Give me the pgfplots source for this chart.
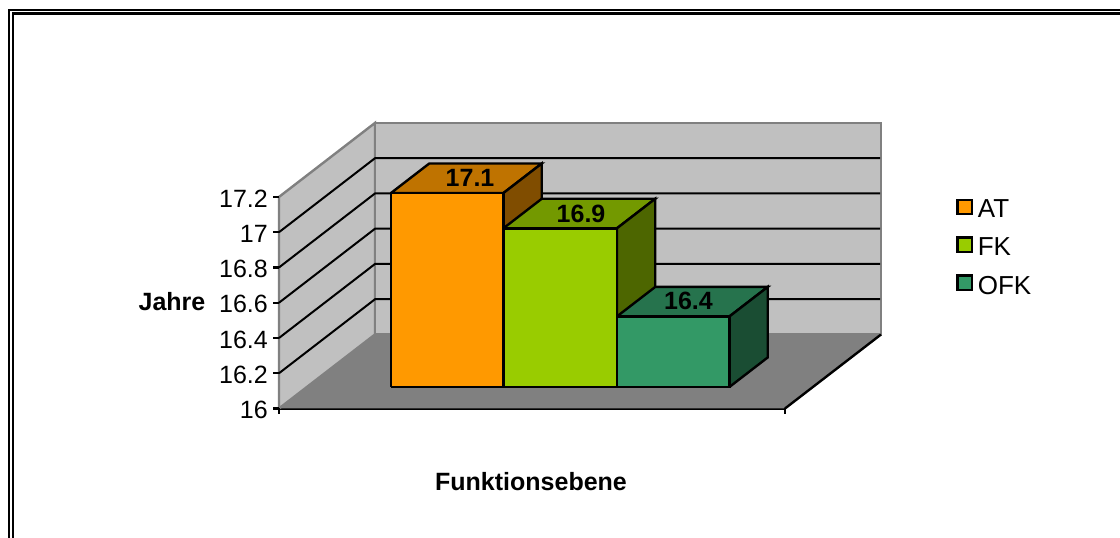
\documentclass[border=0pt]{standalone}
\usepackage{fontspec}
\setmainfont{Liberation Sans}
\usepackage{pgfplots}
\pgfplotsset{compat=1.18}

\definecolor{wall}{HTML}{C0C0C0}
\definecolor{floorc}{HTML}{808080}
\definecolor{atfront}{HTML}{FF9900}
\definecolor{attop}{HTML}{BF7300}
\definecolor{atside}{HTML}{804D00}
\definecolor{fkfront}{HTML}{99CC00}
\definecolor{fktop}{HTML}{739900}
\definecolor{fkside}{HTML}{4D6600}
\definecolor{ofkfront}{HTML}{339966}
\definecolor{ofktop}{HTML}{26734D}
\definecolor{ofkside}{HTML}{1A4D33}

\begin{document}
\begin{tikzpicture}[x=1pt,y=1pt]
\path[use as bounding box] (0,0) rectangle (1120,538);

% double frame, open at the right and at the bottom
\draw[line width=2.4pt] (8.8,0) -- (8.8,527.7) -- (1120,527.7);
\draw[line width=2.4pt] (13,0) -- (13,524.3) -- (1120,524.3);

\begin{axis}[
  at={(279pt,129.5pt)}, anchor=south west,
  x={(1pt,0pt)}, y={(96pt,74pt)}, z={(0pt,176.3pt)},
  xmin=0, xmax=506, ymin=0, ymax=1, zmin=16, zmax=17.2,
  clip=false,
  axis lines=left,
  axis line style={-, line width=2.4pt},
  y axis line style={draw=none},
  xtick=\empty,
  ytick=\empty,
  ztick={16,16.2,16.4,16.6,16.8,17,17.2},
  major tick length=0pt,
  ticklabel style={font=\fontsize{25}{25}\selectfont, inner sep=0pt},
  z tick label style={anchor=east, xshift=-11pt, yshift=-1.5pt},
  /pgf/number format/assume math mode=true,
  legend style={draw=none, fill=none, at={(axis description cs:1.125,0.7375)},
    anchor=north west, font=\fontsize{26}{26}\selectfont, row sep=14.5pt, inner sep=0pt},
  legend cell align=left,
  legend image code/.code={
    \draw[black, line width=2.4pt, fill=white] (1pt,-4pt) rectangle (15pt,10pt);
    \fill[#1] (2.6pt,-2.8pt) rectangle (13.8pt,8.4pt);
    \path (19pt,0pt);
  },
]
% walls and floor
\addplot3[forget plot, fill=wall, draw=floorc, line width=2.4pt]
  coordinates {(0,0,16)(0,1,16)(0,1,17.2)(0,0,17.2)(0,0,16)};
\addplot3[forget plot, fill=wall, draw=floorc, line width=2.4pt]
  coordinates {(0,1,16)(506,1,16)(506,1,17.2)(0,1,17.2)(0,1,16)};
\addplot3[forget plot, black, line width=2pt] coordinates {(0,0,16.2)(0,1,16.2)(505,1,16.2)};
\addplot3[forget plot, black, line width=2pt] coordinates {(0,0,16.4)(0,1,16.4)(505,1,16.4)};
\addplot3[forget plot, black, line width=2pt] coordinates {(0,0,16.6)(0,1,16.6)(505,1,16.6)};
\addplot3[forget plot, black, line width=2pt] coordinates {(0,0,16.8)(0,1,16.8)(505,1,16.8)};
\addplot3[forget plot, black, line width=2pt] coordinates {(0,0,17)(0,1,17)(505,1,17)};
\addplot3[forget plot, fill=floorc, draw=none]
  coordinates {(0,0,16)(506,0,16)(506,1,16)(0,1,16)(0,0,16)};
\addplot3[forget plot, black, line width=2.4pt] coordinates {(506,0,16)(506,1,16)};

% tick marks
\pgfplotsinvokeforeach{16,16.2,16.4,16.6,16.8,17,17.2}{
  \addplot3[forget plot, black, line width=2.4pt] coordinates {(-6,0,#1)(0,0,#1)};
}
\addplot3[forget plot, black, line width=2.4pt] coordinates {(0,0,16)(0,0,15.97)};
\addplot3[forget plot, black, line width=2.4pt] coordinates {(506,0,16)(506,0,15.97)};

% AT 17.1
\addplot3[forget plot, fill=attop, draw=black, line width=2.4pt]
  coordinates {(84,.29,17.1)(196.5,.29,17.1)(196.5,.69,17.1)(84,.69,17.1)(84,.29,17.1)};
\addplot3[forget plot, fill=atside, draw=black, line width=2.4pt]
  coordinates {(196.5,.29,16)(196.5,.69,16)(196.5,.69,17.1)(196.5,.29,17.1)(196.5,.29,16)};
\addplot3[forget plot, fill=atfront, draw=black, line width=2.4pt]
  coordinates {(84,.29,16)(196.5,.29,16)(196.5,.29,17.1)(84,.29,17.1)(84,.29,16)};
% FK 16.9
\addplot3[forget plot, fill=fktop, draw=black, line width=2.4pt]
  coordinates {(196.5,.29,16.9)(310,.29,16.9)(310,.69,16.9)(196.5,.69,16.9)(196.5,.29,16.9)};
\addplot3[forget plot, fill=fkside, draw=black, line width=2.4pt]
  coordinates {(310,.29,16)(310,.69,16)(310,.69,16.9)(310,.29,16.9)(310,.29,16)};
\addplot3[forget plot, fill=fkfront, draw=black, line width=2.4pt]
  coordinates {(196.5,.29,16)(310,.29,16)(310,.29,16.9)(196.5,.29,16.9)(196.5,.29,16)};
% OFK 16.4
\addplot3[forget plot, fill=ofktop, draw=black, line width=2.4pt]
  coordinates {(310,.29,16.4)(422.5,.29,16.4)(422.5,.69,16.4)(310,.69,16.4)(310,.29,16.4)};
\addplot3[forget plot, fill=ofkside, draw=black, line width=2.4pt]
  coordinates {(422.5,.29,16)(422.5,.69,16)(422.5,.69,16.4)(422.5,.29,16.4)(422.5,.29,16)};
\addplot3[forget plot, fill=ofkfront, draw=black, line width=2.4pt]
  coordinates {(310,.29,16)(422.5,.29,16)(422.5,.29,16.4)(310,.29,16.4)(310,.29,16)};

\node[font=\bfseries\fontsize{25}{25}\selectfont] at (axis cs:144,.49,17.1) {17.1};
\node[font=\bfseries\fontsize{25}{25}\selectfont] at (axis cs:255,.49,16.9) {16.9};
\node[font=\bfseries\fontsize{25}{25}\selectfont] at (axis cs:362,.495,16.4) {16.4};

\addlegendimage{atfront}
\addlegendimage{fkfront}
\addlegendimage{ofkfront}
\legend{AT,FK,OFK}
\end{axis}

\node[font=\bfseries\fontsize{25}{25}\selectfont] at (172,236) {Jahre};
\node[font=\bfseries\fontsize{25}{25}\selectfont] at (531,56) {Funktionsebene};
\end{tikzpicture}
\end{document}
